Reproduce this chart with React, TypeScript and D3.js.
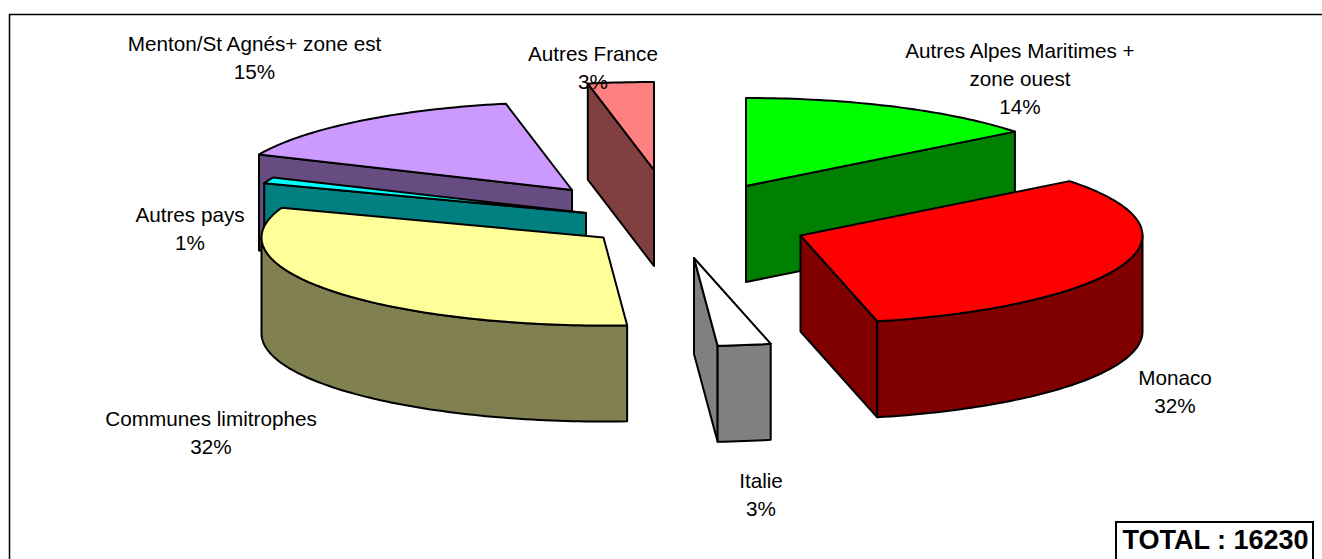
import React from "react";
import * as d3 from "d3";

const categories = [
  "Autres Alpes Maritimes + zone ouest",
  "Monaco",
  "Italie",
  "Communes limitrophes",
  "Autres pays",
  "Menton/St Agnés+ zone est",
  "Autres France",
];
const shares = [14.4, 32.0, 2.5, 31.6, 1.1, 15.3, 3.1];
const percentLabels = ["14%", "32%", "3%", "32%", "1%", "15%", "3%"];
const topColors = ["#00FF00", "#FF0000", "#FFFFFF", "#FFFF99", "#00FFFF", "#CC99FF", "#FF8080"];
const sideColors = ["#008000", "#800000", "#808080", "#808050", "#008080", "#664C80", "#804040"];
const totalLabel = "TOTAL : 16230";

// layout
const W = 1322, H = 559;
const rx = 342, ry = 88, depth = 96;
const cx = 670, cy = 214;
const explodeX = [76, 130.5, 24, -66.5, -84, -98, -16];
const explodeY = [-28, 21.5, 44, 23.5, -1, -24, -44];
const paintOrder = [6, 5, 4, 0, 3, 2, 1];
const labelLines: string[][] = [
  ["Autres Alpes Maritimes +", "zone ouest"],
  ["Monaco"],
  ["Italie"],
  ["Communes limitrophes"],
  ["Autres pays"],
  ["Menton/St Agnés+ zone est"],
  ["Autres France"],
];
const labelX = [1020, 1175, 761, 211, 190, 254.5, 593];
const labelY = [51, 378, 481, 419, 215, 44, 54];
const lineStep = 28;

const px = d3.scaleLinear().domain([-1, 1]).range([-rx, rx]);
const py = d3.scaleLinear().domain([-1, 1]).range([-ry, ry]);

const pie = d3.pie<number>().sort(null).value((d) => d);
const arcs = pie(shares);

function rimPoints(ox: number, oy: number, a0: number, a1: number, dz = 0): [number, number][] {
  const n = Math.max(2, Math.ceil(Math.abs(a1 - a0) / 0.02));
  return d3.range(n + 1).map((i) => {
    const t = a0 + ((a1 - a0) * i) / n;
    return [ox + px(Math.sin(t)), oy + py(-Math.cos(t)) + dz] as [number, number];
  });
}
const lineGen = d3.line();

function Slice({ i }: { i: number }) {
  const a = arcs[i];
  const ox = cx + explodeX[i];
  const oy = cy + explodeY[i];
  const stroke = { stroke: "#000", strokeWidth: 2, strokeLinejoin: "round" as const };
  const walls: [number, number][][] = [];
  const radial = (t: number): [number, number][] => {
    const [p] = rimPoints(ox, oy, t, t);
    return [[ox, oy], p, [p[0], p[1] + depth], [ox, oy + depth]];
  };
  if (Math.sin(a.startAngle) < -1e-6) walls.push(radial(a.startAngle));
  if (Math.sin(a.endAngle) > 1e-6) walls.push(radial(a.endAngle));
  const r0 = Math.max(a.startAngle, Math.PI / 2);
  const r1 = Math.min(a.endAngle, (3 * Math.PI) / 2);
  if (r1 > r0) {
    const top = rimPoints(ox, oy, r0, r1);
    const bottom = rimPoints(ox, oy, r1, r0, depth);
    walls.push([...top, ...bottom]);
  }
  const topShape: [number, number][] = [[ox, oy], ...rimPoints(ox, oy, a.startAngle, a.endAngle)];
  return (
    <g>
      {walls.map((w, k) => (
        <path key={k} d={lineGen(w) + "Z"} fill={sideColors[i]} {...stroke} />
      ))}
      <path d={lineGen(topShape) + "Z"} fill={topColors[i]} {...stroke} />
    </g>
  );
}

export default function App() {
  return (
    <svg
      width={W}
      height={H}
      style={{ position: "absolute", left: 0, top: 0, display: "block", background: "#fff" }}
      fontFamily="'Liberation Sans', Arial, sans-serif"
    >
      <path d={`M${W},14.5 H9.5 V${H}`} fill="none" stroke="#000" strokeWidth={1.5} />
      {paintOrder.map((i) => (
        <Slice key={i} i={i} />
      ))}
      <g fontSize={20.7} fill="#000" textAnchor="middle">
        {categories.map((c, i) => (
          <text key={c} x={labelX[i]} y={labelY[i] + 7}>
            {labelLines[i].map((l, k) => (
              <tspan key={k} x={labelX[i]} dy={k === 0 ? 0 : lineStep}>{l}</tspan>
            ))}
            <tspan x={labelX[i]} dy={lineStep}>{percentLabels[i]}</tspan>
          </text>
        ))}
      </g>
      <rect x={1116} y={522} width={197} height={40} fill="#fff" stroke="#000" strokeWidth={2} />
      <text x={1122.5} y={548.5} fontSize={27} fontWeight="bold" fill="#000">{totalLabel}</text>
    </svg>
  );
}
